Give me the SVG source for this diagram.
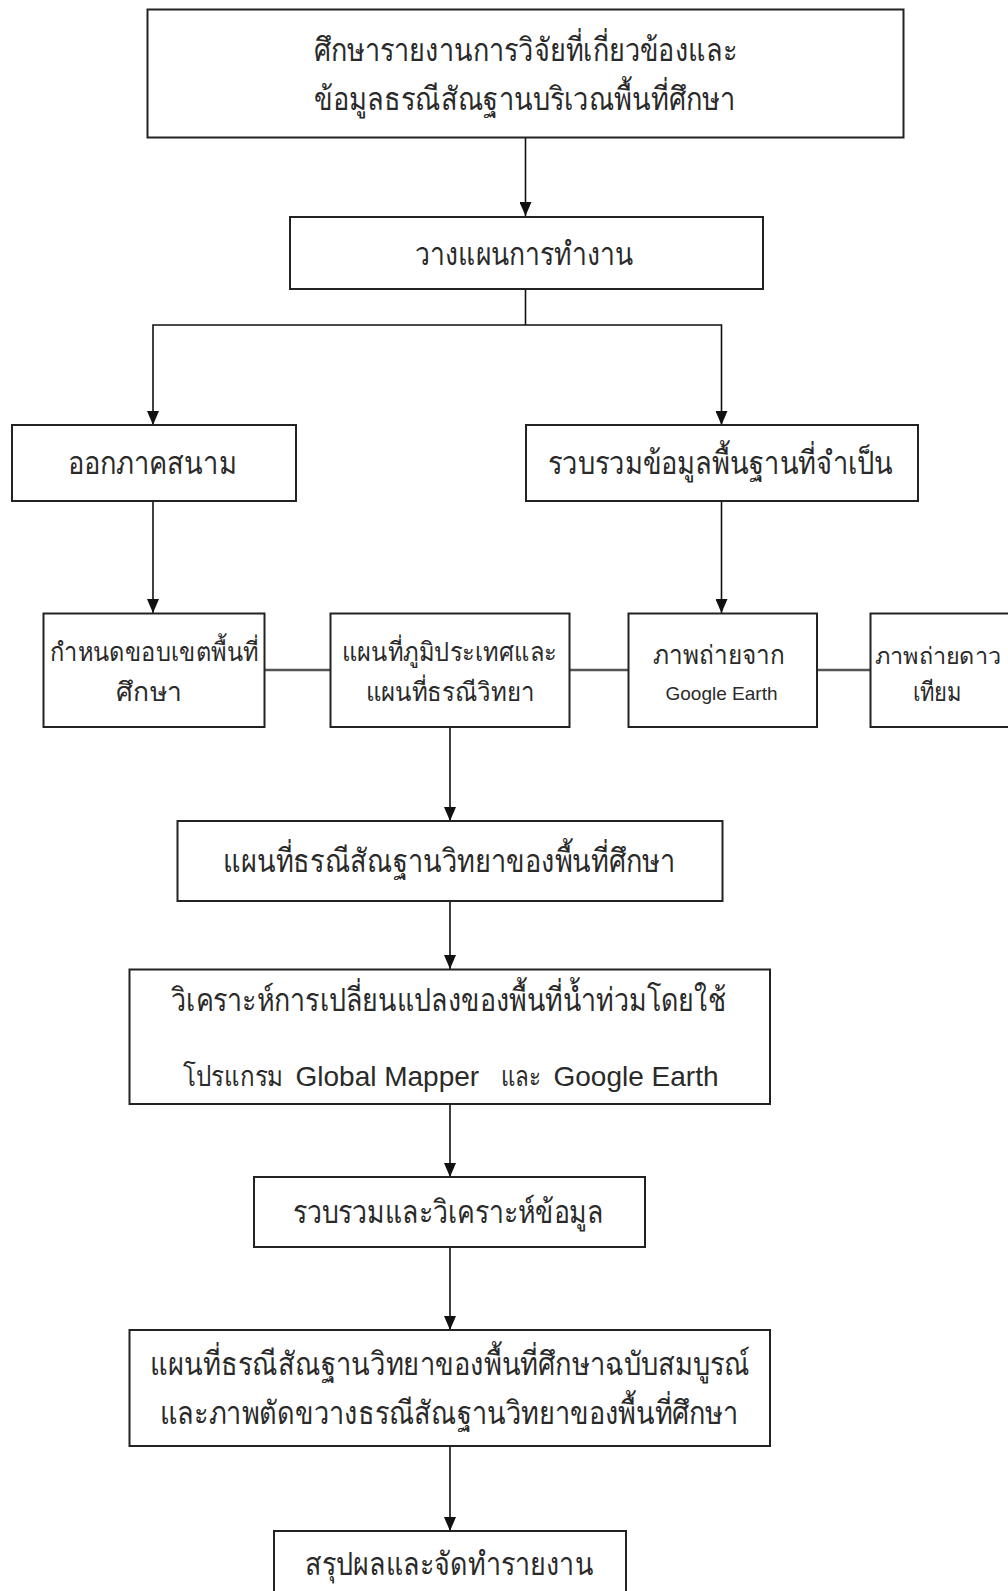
<svg xmlns="http://www.w3.org/2000/svg" width="1008" height="1591" viewBox="0 0 1008 1591">
<defs>
<marker id="ah" markerWidth="14" markerHeight="12" refX="14" refY="6" orient="auto-start-reverse" markerUnits="userSpaceOnUse" viewBox="0 0 14 12">
<path d="M0,0 L14,6 L0,12 Z" fill="#111"/>
</marker>
<style>
.box{fill:#fff;stroke:#222;stroke-width:2}
.th{font-family:"Liberation Sans","Noto Sans",sans-serif;font-size:32px;fill:#2a2a2a;text-anchor:middle}
.sm{font-size:26px}
.la{font-family:"Liberation Sans",Arial,sans-serif;fill:#2a2a2a}
.ln{fill:none;stroke:#111;stroke-width:1.6}
.side{fill:none;stroke:#555;stroke-width:2.5}
</style>
</defs>
<rect width="1008" height="1591" fill="#fff"/>
<g id="connectors">
<line class="ln" x1="525.5" y1="138" x2="525.5" y2="216" marker-end="url(#ah)"/>
<polyline class="ln" points="525.5,289 525.5,325"/>
<polyline class="ln" points="153,425 153,325 721.5,325 721.5,425" marker-start="url(#ah)" marker-end="url(#ah)"/>
<line class="ln" x1="153" y1="501" x2="153" y2="613" marker-end="url(#ah)"/>
<line class="ln" x1="721.5" y1="501" x2="721.5" y2="613" marker-end="url(#ah)"/>
<line class="side" x1="264.5" y1="670" x2="330.5" y2="670"/>
<line class="side" x1="569.5" y1="670" x2="628.5" y2="670"/>
<line class="side" x1="817" y1="670" x2="870.5" y2="670"/>
<line class="ln" x1="450" y1="727" x2="450" y2="821" marker-end="url(#ah)"/>
<line class="ln" x1="450" y1="901" x2="450" y2="969" marker-end="url(#ah)"/>
<line class="ln" x1="450" y1="1104" x2="450" y2="1177" marker-end="url(#ah)"/>
<line class="ln" x1="450" y1="1247" x2="450" y2="1330" marker-end="url(#ah)"/>
<line class="ln" x1="450" y1="1446" x2="450" y2="1531" marker-end="url(#ah)"/>
</g>
<g id="n1">
<rect class="box" x="147.5" y="9.5" width="756" height="128"/>
<text class="th" x="525.5" y="61" textLength="423" lengthAdjust="spacingAndGlyphs">ศึกษารายงานการวิจัยที่เกี่ยวข้องและ</text>
<text class="th" x="524.5" y="110" textLength="421" lengthAdjust="spacingAndGlyphs">ข้อมูลธรณีสัณฐานบริเวณพื้นที่ศึกษา</text>
</g>
<g id="n2">
<rect class="box" x="290" y="217" width="473" height="72"/>
<text class="th" x="524" y="265" textLength="218" lengthAdjust="spacingAndGlyphs">วางแผนการทำงาน</text>
</g>
<g id="n3">
<rect class="box" x="12" y="425" width="284" height="76"/>
<text class="th" x="152" y="474" textLength="169" lengthAdjust="spacingAndGlyphs">ออกภาคสนาม</text>
</g>
<g id="n4">
<rect class="box" x="526" y="425" width="392" height="76"/>
<text class="th" x="720.5" y="474" textLength="345" lengthAdjust="spacingAndGlyphs">รวบรวมข้อมูลพื้นฐานที่จำเป็น</text>
</g>
<g id="n5">
<rect class="box" x="43.5" y="613.5" width="221" height="113.5"/>
<text class="th sm" x="154" y="661" textLength="209" lengthAdjust="spacingAndGlyphs">กำหนดขอบเขตพื้นที่</text>
<text class="th sm" x="149" y="701" textLength="66" lengthAdjust="spacingAndGlyphs">ศึกษา</text>
</g>
<g id="n6">
<rect class="box" x="330.5" y="613.5" width="239" height="113.5"/>
<text class="th sm" x="449.5" y="661" textLength="215" lengthAdjust="spacingAndGlyphs">แผนที่ภูมิประเทศและ</text>
<text class="th sm" x="450" y="701" textLength="169" lengthAdjust="spacingAndGlyphs">แผนที่ธรณีวิทยา</text>
</g>
<g id="n7">
<rect class="box" x="628.5" y="613.5" width="188.5" height="113.5"/>
<text class="th sm" x="719" y="664" textLength="132" lengthAdjust="spacingAndGlyphs">ภาพถ่ายจาก</text>
<text class="la" x="721.5" y="700" font-size="19" text-anchor="middle">Google Earth</text>
</g>
<g id="n8">
<rect class="box" x="870.5" y="613.5" width="150" height="113.5"/>
<text class="th" x="938" y="664" font-size="23" style="font-size:23px" textLength="126" lengthAdjust="spacingAndGlyphs">ภาพถ่ายดาว</text>
<text class="th sm" x="937" y="701" textLength="49" lengthAdjust="spacingAndGlyphs">เทียม</text>
</g>
<g id="n9">
<rect class="box" x="177.5" y="821" width="545" height="80"/>
<text class="th" x="449" y="872" textLength="452" lengthAdjust="spacingAndGlyphs">แผนที่ธรณีสัณฐานวิทยาของพื้นที่ศึกษา</text>
</g>
<g id="n10">
<rect class="box" x="129.5" y="969.5" width="640.5" height="134.5"/>
<text class="th" x="448.7" y="1011" textLength="555" lengthAdjust="spacingAndGlyphs">วิเคราะห์การเปลี่ยนแปลงของพื้นที่น้ำท่วมโดยใช้</text>
<text class="th" x="233" y="1086" style="font-size:28px" textLength="100" lengthAdjust="spacingAndGlyphs">โปรแกรม</text>
<text class="la" x="295.5" y="1086" font-size="28">Global Mapper</text>
<text class="th" x="521" y="1086" style="font-size:28px" textLength="40" lengthAdjust="spacingAndGlyphs">และ</text>
<text class="la" x="553.5" y="1086" font-size="28">Google Earth</text>
</g>
<g id="n11">
<rect class="box" x="254" y="1177" width="391" height="70"/>
<text class="th" x="448" y="1223" textLength="311" lengthAdjust="spacingAndGlyphs">รวบรวมและวิเคราะห์ข้อมูล</text>
</g>
<g id="n12">
<rect class="box" x="129.5" y="1330" width="640.5" height="116"/>
<text class="th" x="450" y="1375" textLength="600" lengthAdjust="spacingAndGlyphs">แผนที่ธรณีสัณฐานวิทยาของพื้นที่ศึกษาฉบับสมบูรณ์</text>
<text class="th" x="449" y="1424" textLength="579" lengthAdjust="spacingAndGlyphs">และภาพตัดขวางธรณีสัณฐานวิทยาของพื้นที่ศึกษา</text>
</g>
<g id="n13">
<rect class="box" x="274" y="1531" width="352" height="80"/>
<text class="th" x="449" y="1575" textLength="288" lengthAdjust="spacingAndGlyphs">สรุปผลและจัดทำรายงาน</text>
</g>
</svg>
